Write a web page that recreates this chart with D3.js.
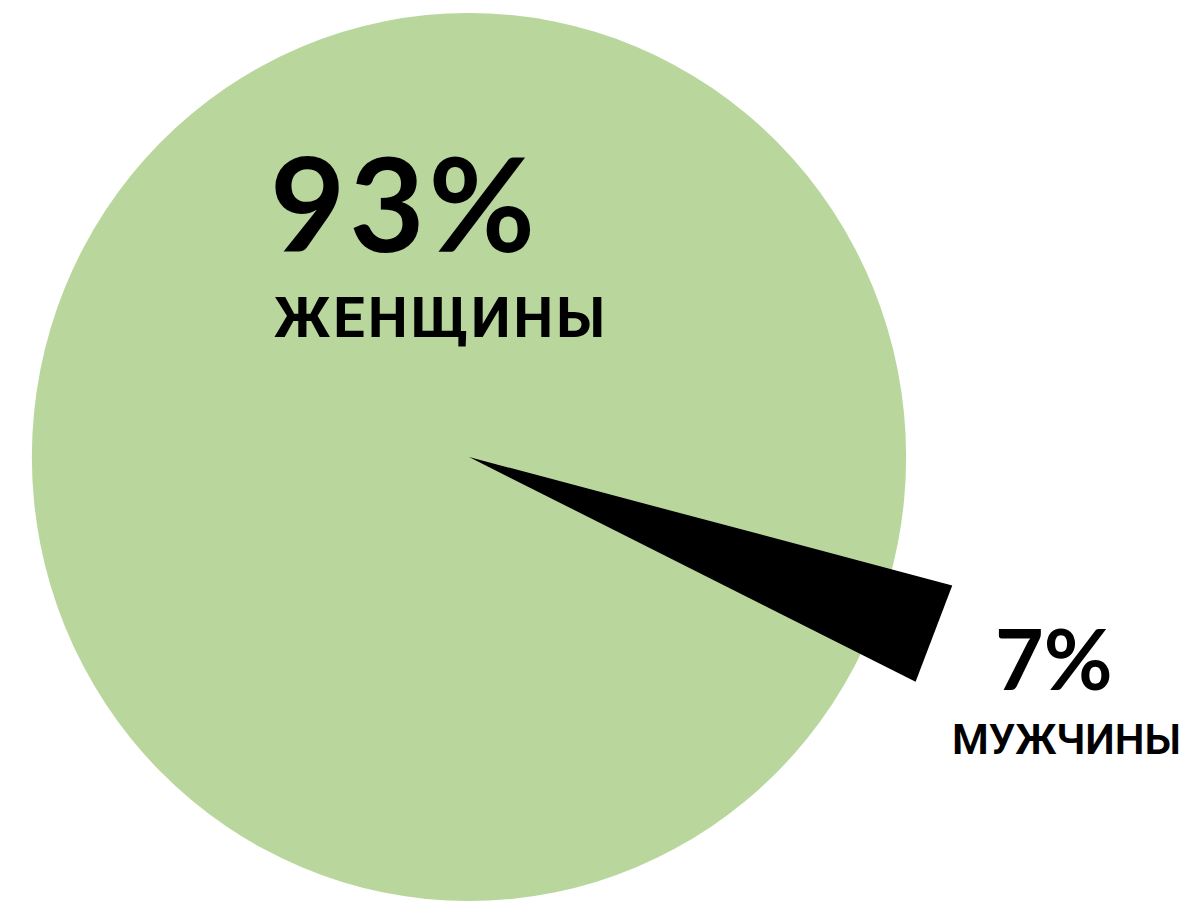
<!DOCTYPE html>
<html lang="ru">
<head>
    <meta charset="UTF-8">
    <title>женщины / мужчины</title>
    <script src="https://d3js.org/d3.v7.min.js"></script>
    <style>
        body { margin: 0; background: #fff; }
    </style>
</head>
<body>
<div id="fig"></div>
<script>
    // data
    let categories = ["женщины", "мужчины"]
    let values = [93, 7]
    let colors = ["#b9d79d", "#000000"]

    let w = 1184, h = 903
    let cx = 469, cy = 457
    let rx = 437, ry = 444        // the green disc is slightly taller than wide
    let wedgeR = 500              // the black wedge sticks out past the disc
    let wedgeNarrow = 0.47        // reference draws the small slice narrower than its share

    let svg = d3.select("#fig").append("svg")
        .attr("width", w)
        .attr("height", h)

    let g = svg.append("g").attr("transform", `translate(${cx},${cy})`)

    let startDeg = 123.4
    let pie = d3.pie().sort(null)
        .startAngle(startDeg * Math.PI / 180)
        .endAngle(startDeg * Math.PI / 180 + 2 * Math.PI)
    let arcs = pie(values)

    // big slice: drawn as the full disc, small slice goes on top
    let arc = d3.arc().innerRadius(0).outerRadius(rx)
    g.append("path")
        .attr("d", arc({startAngle: 0, endAngle: 2 * Math.PI}))
        .attr("transform", `scale(1,${ry / rx})`)
        .attr("fill", colors[0])

    let small = arcs[1]
    let mid = (small.startAngle + small.endAngle) / 2
    let half = (small.endAngle - small.startAngle) * wedgeNarrow / 2
    let wedge = [[0, 0], d3.pointRadial(mid - half, wedgeR), d3.pointRadial(mid + half, wedgeR)]
    g.append("path")
        .attr("d", d3.line()(wedge) + "Z")
        .attr("fill", colors[1])

    // labels
    let numFont = "Lato, 'DejaVu Sans', sans-serif"
    let txtFont = "Roboto, 'Noto Sans', sans-serif"

    svg.append("text")
        .attr("x", 270).attr("y", 252)
        .attr("font-family", numFont).attr("font-weight", 700)
        .attr("font-size", 130)
        .attr("textLength", 265).attr("lengthAdjust", "spacing")
        .attr("fill", "#000")
        .text(values[0] + "%")

    svg.append("text")
        .attr("x", 274).attr("y", 337)
        .attr("font-family", txtFont).attr("font-weight", 700)
        .attr("font-size", 56)
        .attr("textLength", 331).attr("lengthAdjust", "spacing")
        .attr("fill", "#000")
        .text(categories[0].toUpperCase())

    svg.append("text")
        .attr("x", 995).attr("y", 690)
        .attr("font-family", numFont).attr("font-weight", 700)
        .attr("font-size", 84)
        .attr("fill", "#000")
        .text(values[1] + "%")

    svg.append("text")
        .attr("x", 952).attr("y", 754)
        .attr("font-family", txtFont).attr("font-weight", 600)
        .attr("font-size", 42)
        .attr("textLength", 229).attr("lengthAdjust", "spacing")
        .attr("fill", "#000")
        .text(categories[1].toUpperCase())
</script>
</body>
</html>
